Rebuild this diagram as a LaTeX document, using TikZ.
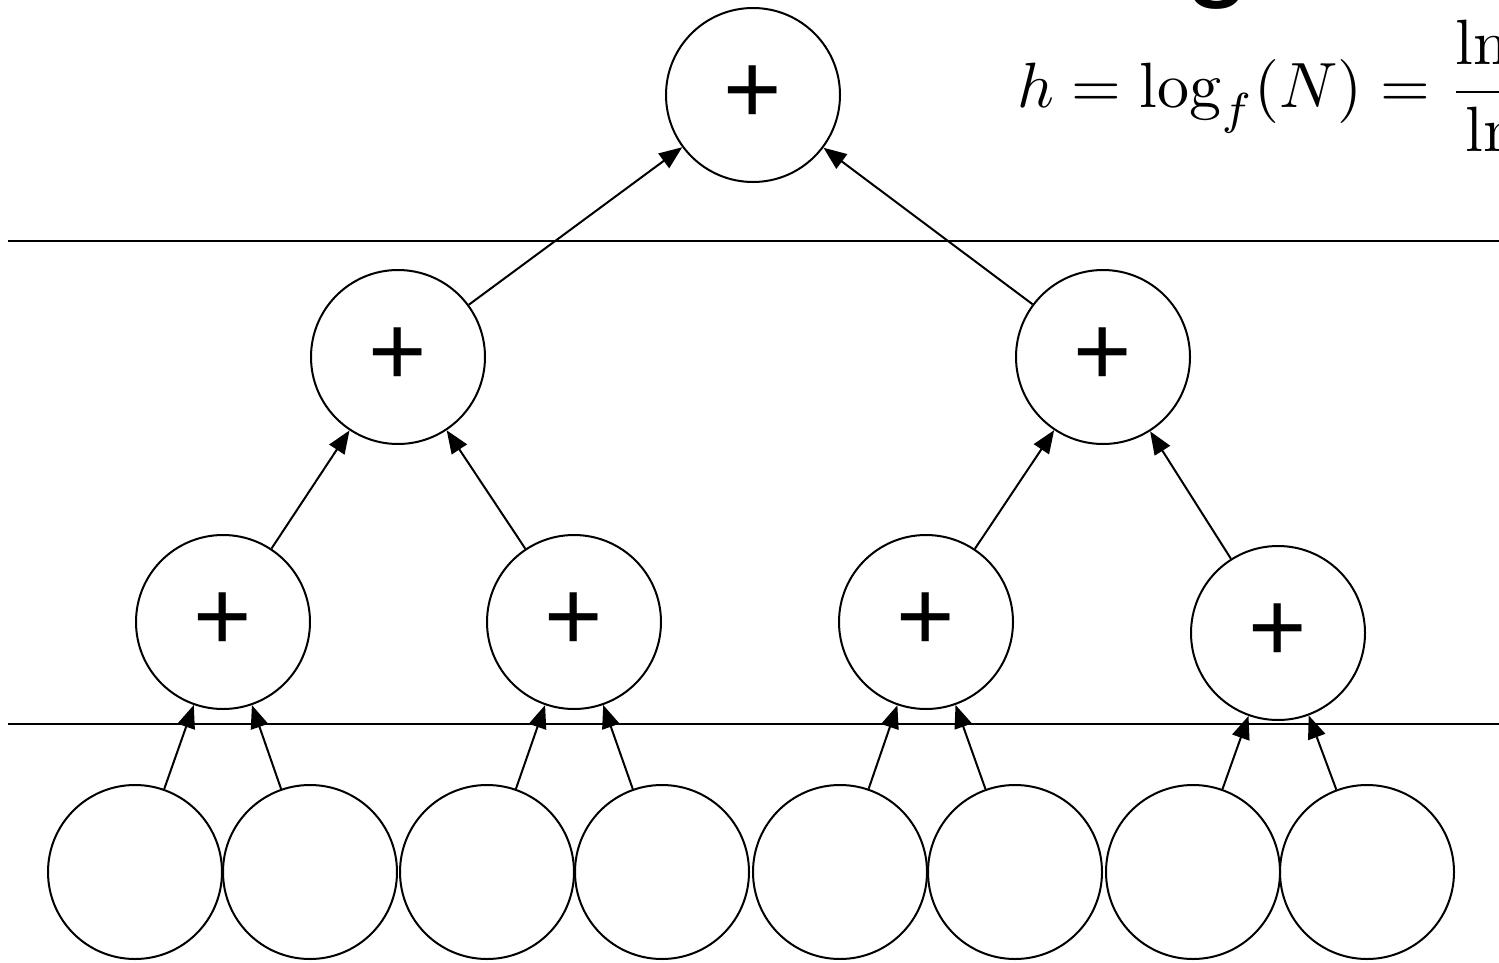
\documentclass[tikz,border=0pt]{standalone}
\usepackage{fontspec}
\newfontfamily\plusfont{Liberation Sans}
\usetikzlibrary{arrows.meta}
\begin{document}
\begin{tikzpicture}[x=1pt,y=-1pt,
  nd/.style={circle,draw,line width=2pt,minimum size=174pt,inner sep=0pt,font=\plusfont\fontsize{100}{110}\selectfont},
  arr/.style={line width=2pt,-{Triangle[length=23pt,width=18pt]}},
  sepline/.style={line width=2.2pt}]
\useasboundingbox (0,0) rectangle (1499,963);
\clip (0,0) rectangle (1499,963);
% separator lines
\coordinate (s1a) at (8,241); \coordinate (s1b) at (1510,241);
\coordinate (s2a) at (8,724); \coordinate (s2b) at (1510,724);
\draw[sepline] (s1a) -- (s1b);
\draw[sepline] (s2a) -- (s2b);
% nodes
\node[nd] (t) at (753,95) {+};
\node[nd] (m1) at (398,357) {+};
\node[nd] (m2) at (1103,357) {+};
\node[nd] (b1) at (223,622) {+};
\node[nd] (b2) at (574,622) {+};
\node[nd] (b3) at (926,622) {+};
\node[nd] (b4) at (1278,633) {+};
\foreach \i/\x in {1/135,2/310,3/487,4/662,5/840,6/1015,7/1193,8/1367}
  \node[nd] (l\i) at (\x,872) {};
% arrows
\draw[arr] (m1) -- (t);
\draw[arr] (m2) -- (t);
\draw[arr] (b1) -- (m1);
\draw[arr] (b2) -- (m1);
\draw[arr] (b3) -- (m2);
\draw[arr] (b4) -- (m2);
\draw[arr] (l1) -- (b1);
\draw[arr] (l2) -- (b1);
\draw[arr] (l3) -- (b2);
\draw[arr] (l4) -- (b2);
\draw[arr] (l5) -- (b3);
\draw[arr] (l6) -- (b3);
\draw[arr] (l7) -- (b4);
\draw[arr] (l8) -- (b4);
% formula
\node[anchor=base west,inner sep=0pt,scale=6.4] (f) at (1016,108) {$\displaystyle h=\log_f(N)=\frac{\ln N}{\ln f}$};
% partial title glyph
\node[anchor=south,inner sep=0pt,font=\plusfont\fontsize{120}{130}\selectfont] (g) at (1218,10) {g};
\end{tikzpicture}
\end{document}
